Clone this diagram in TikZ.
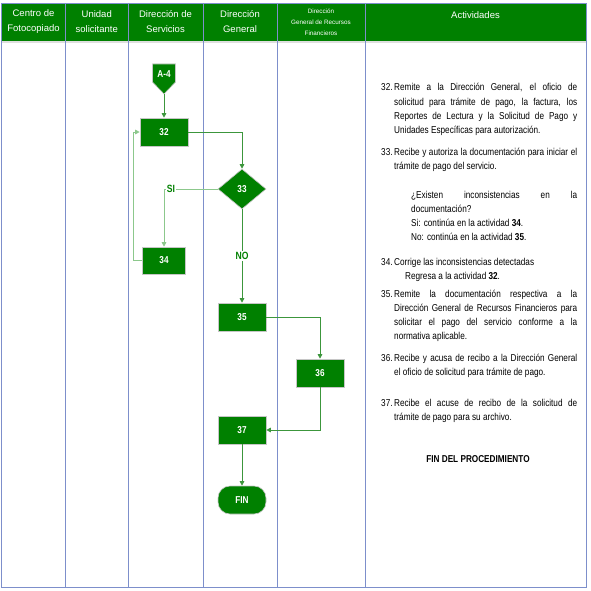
\documentclass[tikz,border=0pt]{standalone}
\usepackage{fontspec}
\setmainfont{Liberation Sans}
\newfontfamily\angosta[FakeStretch=0.82]{Liberation Sans}
\usetikzlibrary{arrows.meta,positioning,shapes.geometric,calc}
\definecolor{verdeosc}{HTML}{008000}
\definecolor{verdelinea}{HTML}{3C963C}
\definecolor{verdeclaro}{HTML}{8CC88C}
\definecolor{azullinea}{HTML}{7D8FCB}
\newcommand{\numpaso}[1]{\makebox[13pt][l]{#1}\hangindent=13pt\hangafter=1 }

\begin{document}
\begin{tikzpicture}[x=1pt,y=-1pt,
			caja/.style={draw=gray!45,line width=0.6pt,fill=verdeosc,text=white,minimum width=48pt,minimum height=28pt,
				inner sep=0pt,font=\angosta\bfseries\fontsize{10}{12}\selectfont},
			decision/.style={caja,diamond,minimum width=48pt,minimum height=40pt},
			terminal/.style={caja,rounded corners=12pt},
			flujo/.style={verdelinea,line width=0.8pt,-{Triangle[length=4.5pt,width=4.5pt]}},
			retorno/.style={flujo,verdeclaro},
			etiq/.style={fill=white,inner sep=1pt,text=verdeosc,font=\angosta\bfseries\fontsize{10.5}{12}\selectfont},
			encab/.style={text=white,align=center,inner sep=0pt,font=\fontsize{9.5}{14.5}\selectfont},
			act/.style={anchor=base west,inner sep=0pt,text width=196pt,align=justify,font=\angosta\fontsize{10}{14.3}\selectfont}
			]
			\useasboundingbox (0,0) rectangle (590,591);
			\fill[verdeosc] (1.5,3) rectangle (586,41);
			\draw[gray!25,line width=1.2pt] (1.5,42) -- (586,42);
			\draw[azullinea,line width=0.8pt] (1.5,3) rectangle (586,587);
			\foreach \x in {65.5,128,203,277,365}
			\draw[azullinea,line width=0.8pt] (\x,3) -- (\x,587);

			\node[encab] (h1) at (33.5,21.5) {Centro de\\Fotocopiado};
			\node[encab] (h2) at (96.75,21.5) {Unidad\\solicitante};
			\node[encab] (h3) at (165.5,21.5) {Dirección de\\Servicios};
			\node[encab] (h4) at (240,21.5) {Dirección\\General};
			\node[encab,font=\fontsize{6.3}{11}\selectfont] (h5) at (321,22) {Dirección\\General de Recursos\\Financieros};
			\node[encab] (h6) at (475.5,15) {Actividades};

			\fill[verdeosc,draw=gray!45,line width=0.6pt] (152.5,64) -- (175.5,64) -- (175.5,82) -- (164,94) -- (152.5,82) -- cycle;
			\coordinate (a4punta) at (164,94);
			\node[text=white,font=\angosta\bfseries\fontsize{10}{12}\selectfont] (a4) at (164,74.5) {A-4};

			\node[caja] (b32) at (164,132) {32};
			\node[decision] (d33) at (242,189) {33};
			\node[caja,minimum width=43pt,minimum height=27pt] (b34) at (164,260.5) {34};
			\node[caja] (b35) at (242,317) {35};
			\node[caja] (b36) at (320,373) {36};
			\node[caja] (b37) at (242,430) {37};
			\node[terminal] (fin) at (242,500) {FIN};

			\draw[flujo] (a4punta) -- (b32.north);
			\draw[flujo] (b32.east) -| (d33.north);
			\draw[retorno] (d33.west) -| node[etiq,pos=0.435]{SI} (b34.north);
			\draw[retorno] (b34.west) -- ++(-9,0) |- (b32.west);
			\draw[flujo] (d33.south) -- node[etiq]{NO} (b35.north);
			\draw[flujo] (b35.east) -| (b36.north);
			\draw[flujo] (b36.south) |- (b37.east);
			\draw[flujo] (b37.south) -- (fin.north);

			\node[act] (t32) at (381,91) {\numpaso{32.}Remite a la Dirección General, el oficio de\linebreak solicitud para trámite de pago, la factura, los\linebreak Reportes de Lectura y la Solicitud de Pago y\linebreak Unidades Específicas para autorización.\par};
			\node[act] (t33) at (381,155) {\numpaso{33.}Recibe y autoriza la documentación para iniciar el\linebreak trámite de pago del servicio.\par};
			\node[act,text width=166pt] (preg) at (411,198) {¿Existen inconsistencias en la\linebreak documentación?\\Si: continúa en la actividad \textbf{34}.\\No: continúa en la actividad \textbf{35}.};
			\node[act] (t34) at (381,265) {\numpaso{34.}Corrige las inconsistencias detectadas\\\hspace*{11pt}Regresa a la actividad \textbf{32}.\par};
			\node[act] (t35) at (381,297) {\numpaso{35.}Remite la documentación respectiva a la\linebreak Dirección General de Recursos Financieros para\linebreak solicitar el pago del servicio conforme a la\linebreak normativa aplicable.\par};
			\node[act] (t36) at (381,361) {\numpaso{36.}Recibe y acusa de recibo a la Dirección General\linebreak el oficio de solicitud para trámite de pago.\par};
			\node[act] (t37) at (381,406) {\numpaso{37.}Recibe el acuse de recibo de la solicitud de\linebreak trámite de pago para su archivo.\par};
			\node[font=\angosta\bfseries\fontsize{10}{12}\selectfont] (finproc) at (478,459) {FIN DEL PROCEDIMIENTO};
		\end{tikzpicture}
\end{document}
